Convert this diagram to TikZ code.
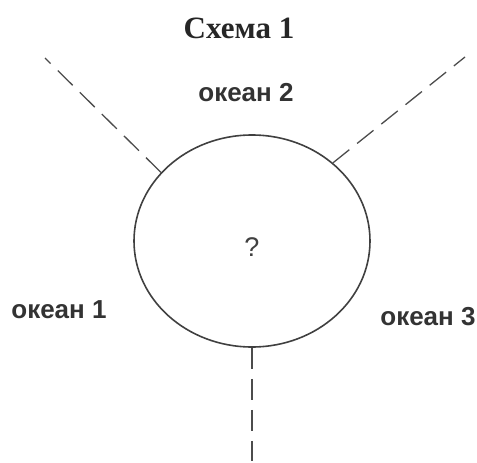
\documentclass[tikz,border=0pt]{standalone}
\usepackage{fontspec}
\setmainfont{Liberation Serif}
\setsansfont{Liberation Sans}
\usetikzlibrary{shapes.geometric}

\tikzset{
  ocean/.style={font=\sffamily\bfseries\fontsize{26}{30}\selectfont, text=black!80, inner sep=0pt},
  boundary/.style={draw=black!70, line width=1.3pt, dash pattern=on 21pt off 10pt},
}

\begin{document}
\begin{tikzpicture}[x=1pt,y=-1pt]
  \useasboundingbox (0,0) rectangle (477,463);
  % title
  \node[font=\bfseries\fontsize{31}{36}\selectfont, text=black!85, inner sep=0pt] (title) at (239,28) {Схема 1};
  % the land in the middle
  \node[ellipse, draw=black!75, line width=1.6pt, minimum width=236pt, minimum height=212pt, inner sep=0pt] (land) at (252,241) {};
  \node[font=\sffamily\fontsize{27}{31}\selectfont, text=black!75, inner sep=0pt] (quest) at (252,247) {?};
  % oceans
  \node[ocean] (ocean2) at (246,93) {океан 2};
  \node[ocean] (ocean1) at (59,310) {океан 1};
  \node[ocean] (ocean3) at (428,317) {океан 3};
  % dashed borders between oceans
  \coordinate (endNW) at (45,58);
  \coordinate (endNE) at (465,57);
  \coordinate (endS) at (252,461);
  \draw[boundary] (land.143) -- (endNW);
  \draw[boundary] (land.44) -- (endNE);
  \draw[boundary] (land.south) -- (endS);
\end{tikzpicture}
\end{document}
